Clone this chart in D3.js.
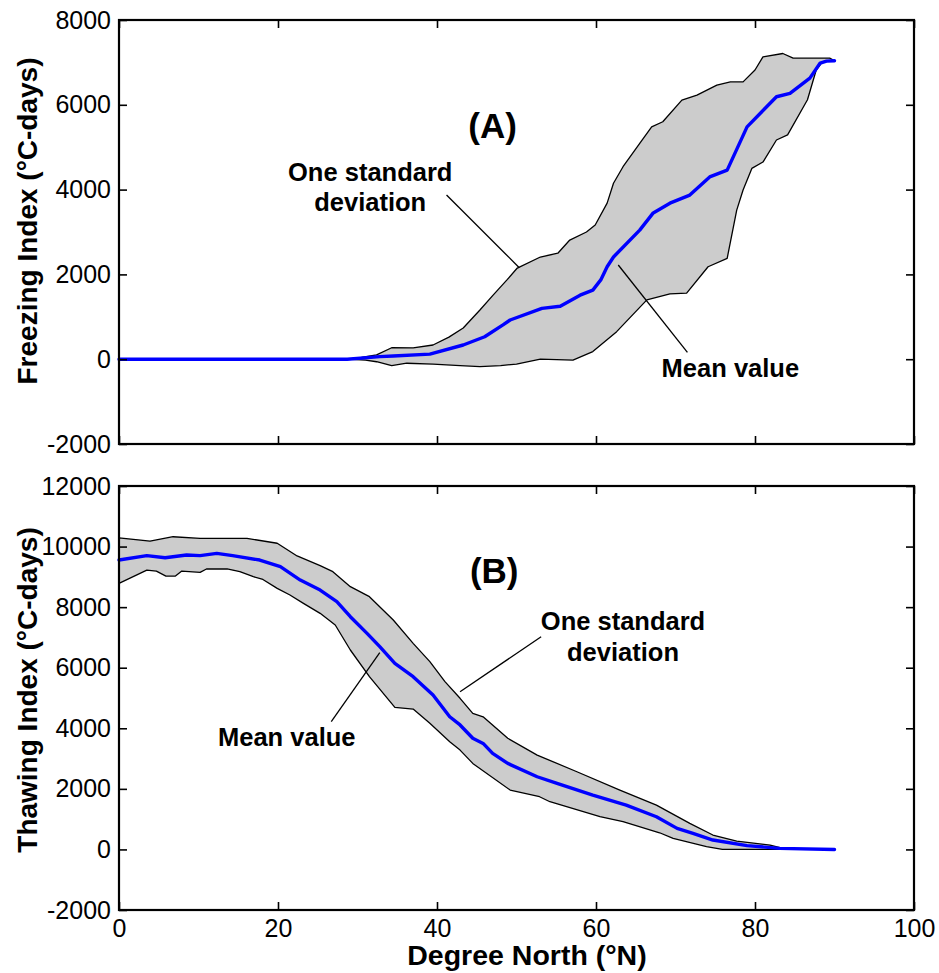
<!DOCTYPE html>
<html>
<head>
<meta charset="utf-8">
<script src="https://cdn.jsdelivr.net/npm/d3@7"></script>
<style>
  html, body { margin: 0; padding: 0; background: #ffffff; }
  svg { display: block; font-family: "Liberation Sans", Arial, Helvetica, sans-serif; }
</style>
</head>
<body>
<svg id="chart" width="939" height="973"></svg>
<script>
// ---- Freezing index (panel A): latitude (°N) and °C-days ----
const freezeMeanLat = [0, 26.5, 28.7, 32.8, 34.5, 39.1, 43.3, 46, 48.3, 49.2, 53.2, 55.5, 58, 59.6, 60.6, 61.4, 62.2, 65.5, 67.2, 69.3, 71.8, 74.3, 76.5, 79, 82.7, 84.4, 86.9, 88.2, 89, 90];
const freezeMean    = [0, 0, 0, 60, 75, 120, 335, 530, 810, 925, 1200, 1250, 1510, 1630, 1870, 2180, 2410, 3045, 3450, 3680, 3870, 4300, 4460, 5480, 6190, 6270, 6630, 6985, 7030, 7040];

const freezeUpperLat = [0, 28.7, 30.5, 32.4, 34.3, 37, 39.5, 41.5, 43.3, 45.4, 47, 48.8, 50.1, 53, 55.2, 56.7, 58.8, 59.9, 61.4, 62.2, 63.4, 65.5, 67, 68.4, 70.8, 72.7, 75.2, 76.9, 78.5, 80, 81, 83.5, 84.8, 89.4, 90];
const freezeUpper    = [0, 0, 40, 100, 270, 265, 335, 520, 735, 1160, 1500, 1870, 2150, 2410, 2500, 2810, 3000, 3165, 3680, 4150, 4540, 5090, 5480, 5600, 6110, 6230, 6465, 6540, 6540, 6820, 7130, 7210, 7100, 7100, 7040];

const freezeLowerLat = [0, 28.7, 31, 32.4, 34.3, 36.2, 39.5, 42.9, 45.4, 48, 50, 53, 57.1, 59.6, 62.6, 66.4, 69.3, 71.4, 74.1, 76.5, 77.7, 78.5, 79.6, 81, 82.7, 84.1, 86.6, 87.7, 88.5, 90];
const freezeLower    = [0, 0, -20, -60, -150, -95, -115, -150, -175, -150, -115, 0, -20, 180, 650, 1400, 1540, 1560, 2180, 2380, 3515, 3990, 4500, 4650, 5170, 5290, 6120, 6820, 7020, 7040];

// ---- Thawing index (panel B) ----
const thawMeanLat = [0, 3.5, 5.8, 8.5, 10.2, 12.3, 14.3, 17.7, 20.3, 22.8, 25.3, 27.4, 29.1, 31.2, 32.8, 34.7, 37, 39.5, 41.6, 42.9, 44.5, 45.8, 47, 48.9, 52.6, 55.1, 59.6, 63.8, 67.6, 70.2, 72.2, 74.7, 79, 83.1, 90];
const thawMean    = [9555, 9700, 9630, 9720, 9700, 9775, 9700, 9555, 9335, 8895, 8565, 8180, 7685, 7135, 6695, 6145, 5705, 5100, 4380, 4110, 3670, 3500, 3170, 2840, 2400, 2180, 1795, 1465, 1080, 695, 530, 310, 125, 35, 0];

const thawUpperLat = [0, 3.9, 6.8, 10.2, 16.1, 19.9, 22.4, 25.3, 26.9, 29.1, 31.5, 34.5, 37, 39.1, 41, 42.9, 44.5, 45.8, 48.9, 52.6, 57.6, 63, 67.6, 71.8, 74.7, 77.7, 81.9, 84, 90];
const thawUpper    = [10290, 10180, 10325, 10270, 10270, 10110, 9690, 9370, 9170, 8675, 8345, 7575, 6805, 6200, 5540, 4990, 4490, 4380, 3670, 3115, 2565, 1960, 1465, 860, 475, 275, 145, 0, 0];

const thawLowerLat = [0, 3.5, 4.7, 5.9, 7.1, 7.9, 10.2, 11, 13.6, 15.2, 16.9, 18.1, 19.9, 21.5, 23.2, 25.3, 27.2, 29.1, 31.5, 34.7, 37, 39.1, 41.6, 42.9, 44.5, 49.2, 52.9, 54.2, 60.5, 63.4, 68, 69.7, 73.9, 75.9, 90];
const thawLower    = [8785, 9225, 9190, 9025, 9025, 9190, 9150, 9260, 9260, 9170, 9005, 8915, 8620, 8400, 8125, 7795, 7410, 6585, 5705, 4690, 4635, 4165, 3555, 3280, 2840, 1960, 1740, 1575, 1080, 915, 550, 365, 90, 0, 0];

// ---- Axis ticks ----
const xTicks = [0, 20, 40, 60, 80, 100];
const freezeTicks = [-2000, 0, 2000, 4000, 6000, 8000];
const thawTicks = [-2000, 0, 2000, 4000, 6000, 8000, 10000, 12000];

const svg = d3.select("#chart");
const zip = (xs, ys) => xs.map((x, i) => [x, ys[i]]);

function panel(cfg) {
  const x = d3.scaleLinear().domain([0, 100]).range([119, 914]);
  const y = d3.scaleLinear().domain(cfg.yDomain).range([cfg.bottom, cfg.top]);
  const g = svg.append("g");
  const line = d3.line().x(d => x(d[0])).y(d => y(d[1]));

  // shaded ±1 SD envelope: upper edge forward, lower edge back
  const ring = zip(cfg.upLat, cfg.up).concat(zip(cfg.loLat, cfg.lo).reverse());
  g.append("path")
    .attr("d", line(ring) + "Z")
    .attr("fill", "#cccccc")
    .attr("stroke", "#000")
    .attr("stroke-width", 1.3)
    .attr("stroke-linejoin", "round");

  // mean curve
  g.append("path")
    .attr("d", line(zip(cfg.meanLat, cfg.mean)))
    .attr("fill", "none")
    .attr("stroke", "#0000ff")
    .attr("stroke-width", 3.4)
    .attr("stroke-linejoin", "round")
    .attr("stroke-linecap", "round");

  // inward ticks on all four sides
  const fmt = d => String(d);
  const left = g.append("g").attr("transform", `translate(${x(0)},0)`)
    .call(d3.axisLeft(y).tickValues(cfg.yTicks).tickSize(-8).tickSizeOuter(0).tickPadding(8).tickFormat(fmt));
  const right = g.append("g").attr("transform", `translate(${x(100)},0)`)
    .call(d3.axisRight(y).tickValues(cfg.yTicks).tickSize(-8).tickSizeOuter(0).tickFormat(""));
  const top = g.append("g").attr("transform", `translate(0,${cfg.top})`)
    .call(d3.axisTop(x).tickValues(xTicks).tickSize(-8).tickSizeOuter(0).tickFormat(""));
  const bottom = g.append("g").attr("transform", `translate(0,${cfg.bottom})`)
    .call(d3.axisBottom(x).tickValues(xTicks).tickSize(-8).tickSizeOuter(0).tickPadding(9)
      .tickFormat(cfg.xLabels ? fmt : ""));

  [left, right, top, bottom].forEach(a => {
    a.select(".domain").remove();
    a.selectAll(".tick line").attr("stroke", "#000").attr("stroke-width", 1.6);
    a.selectAll(".tick text").attr("fill", "#000").attr("font-size", 25)
      .attr("font-family", "'Liberation Sans', Arial, sans-serif");
  });

  // axes frame
  g.append("rect")
    .attr("x", x(0)).attr("y", cfg.top)
    .attr("width", x(100) - x(0)).attr("height", cfg.bottom - cfg.top)
    .attr("fill", "none").attr("stroke", "#000").attr("stroke-width", 2.2);

  // y-axis title
  g.append("text")
    .attr("transform", `translate(37,${cfg.titleY}) rotate(-90)`)
    .attr("text-anchor", "middle")
    .attr("font-size", 28).attr("font-weight", "bold")
    .text(cfg.yTitle);

  // panel letter
  g.append("text")
    .attr("x", x(cfg.tag[0])).attr("y", y(cfg.tag[1]))
    .attr("text-anchor", "middle").attr("font-size", 35).attr("font-weight", "bold")
    .text(cfg.tag[2]);

  // callouts
  cfg.notes.forEach(n => {
    const t = g.append("text")
      .attr("text-anchor", "middle").attr("font-size", 25.5).attr("font-weight", "bold");
    n.lines.forEach((s, i) => {
      t.append("tspan").attr("x", x(n.at[0])).attr("y", y(n.at[1]) + i * 30.5).text(s);
    });
    g.append("line")
      .attr("x1", x(n.from[0])).attr("y1", y(n.from[1]))
      .attr("x2", x(n.to[0])).attr("y2", y(n.to[1]))
      .attr("stroke", "#000").attr("stroke-width", 1.3);
  });
  return { x, y };
}

panel({
  top: 20, bottom: 444, yDomain: [-2000, 8000], yTicks: freezeTicks, xLabels: false,
  meanLat: freezeMeanLat, mean: freezeMean,
  upLat: freezeUpperLat, up: freezeUpper, loLat: freezeLowerLat, lo: freezeLower,
  yTitle: "Freezing Index (°C-days)", titleY: 221,
  tag: [47, 5224, "(A)"],
  notes: [
    { lines: ["One standard", "deviation"], at: [31.6, 4203], from: [41.2, 3873], to: [50.35, 2158] },
    { lines: ["Mean value"], at: [76.9, -420], from: [62.8, 2222], to: [71.5, 163] }
  ]
});

panel({
  top: 486, bottom: 910, yDomain: [-2000, 12000], yTicks: thawTicks, xLabels: true,
  meanLat: thawMeanLat, mean: thawMean,
  upLat: thawUpperLat, up: thawUpper, loLat: thawLowerLat, lo: thawLower,
  yTitle: "Thawing Index (°C-days)", titleY: 690,
  tag: [47.2, 8796, "(B)"],
  notes: [
    { lines: ["One standard", "deviation"], at: [63.4, 7244], from: [53.1, 7023], to: [42.9, 5207] },
    { lines: ["Mean value"], at: [21.1, 3414], from: [32.8, 6495], to: [26.7, 4217] }
  ]
});

// shared x-axis title
svg.append("text")
  .attr("x", 527).attr("y", 965)
  .attr("text-anchor", "middle")
  .attr("font-size", 28.5).attr("font-weight", "bold")
  .text("Degree North (°N)");
</script>
</body>
</html>
